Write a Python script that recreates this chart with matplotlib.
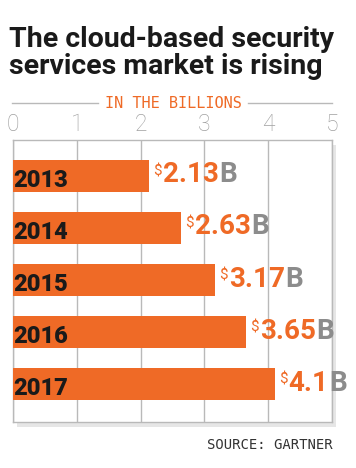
import matplotlib
matplotlib.use("Agg")
import matplotlib.pyplot as plt
from matplotlib.lines import Line2D
from matplotlib.patches import Rectangle

years = ["2013", "2014", "2015", "2016", "2017"]
values = [2.13, 2.63, 3.17, 3.65, 4.1]
value_labels = ["2.13", "2.63", "3.17", "3.65", "4.1"]
xticks = [0, 1, 2, 3, 4, 5]

ORANGE = "#ef6a26"
GRID = "#b9b9b9"
GREY_B = "#8c8c8c"
W, H = 356, 468

plt.rcParams["font.family"] = ["Roboto", "DejaVu Sans"]

fig = plt.figure(figsize=(W / 100, H / 100), dpi=100)
fig.patch.set_facecolor("white")

def fx(px):
    return px / W

def fy(py):
    return 1 - py / H

# plot area in pixels
left, right, top, bottom = 13, 332, 140, 422

# drop shadow behind the box
fig.add_artist(Rectangle((fx(left + 4), fy(bottom + 5)), fx(right - left), (bottom - top) / H,
                         transform=fig.transFigure, facecolor="#e6e6e6", edgecolor="none", zorder=0))

ax = fig.add_axes([fx(left), fy(bottom), fx(right - left), (bottom - top) / H])
ax.set_facecolor("white")
ax.set_zorder(1)

pos = list(range(len(years)))
ax.barh(pos, values, height=0.6, color=ORANGE, zorder=3)
ax.set_xlim(0, 5)
ax.set_ylim(4.73, -0.69)

ax.set_xticks(xticks)
ax.xaxis.tick_top()
ax.tick_params(axis="x", length=0, pad=3, labelsize=16.5, labelcolor="#a0a0a0")
for t in ax.get_xticklabels():
    t.set_fontweight("light")
ax.set_yticks([])
ax.grid(axis="x", color=GRID, linewidth=1, zorder=0)
for s in ax.spines.values():
    s.set_color(GRID)
    s.set_linewidth(1)

for i, (yr, v, lab) in enumerate(zip(years, values, value_labels)):
    ax.text(0.0, i + 0.31, yr, ha="left", va="bottom", fontsize=17, fontweight="black",
            color="#1a1a1a", zorder=4)
    t1 = ax.annotate("$", (v, i), xytext=(3, 3), textcoords="offset points", ha="left", va="center",
                     fontsize=11, color=ORANGE, zorder=4)
    t2 = ax.annotate(lab, xy=(1, 0), xycoords=t1, xytext=(1, -7), textcoords="offset points",
                     ha="left", va="bottom", fontsize=20, fontweight="bold", color=ORANGE, zorder=4)
    ax.annotate("B", xy=(1, 0), xycoords=t2, xytext=(0, 0), textcoords="offset points",
                ha="left", va="bottom", fontsize=20, fontweight="bold", color=GREY_B, zorder=4)

# title
fig.text(fx(9), fy(26), "The cloud-based security\nservices market is rising", ha="left", va="top",
         fontsize=20.5, fontweight="bold", color="#1a1a1a", linespacing=1.0)

# units header with rules either side
fig.text(fx(173), fy(103), "IN THE BILLIONS", ha="center", va="center", fontsize=11,
         color=ORANGE, fontfamily="DejaVu Sans Mono")
fig.add_artist(Line2D([fx(12), fx(98)], [fy(103), fy(103)], color=GRID, lw=1, transform=fig.transFigure))
fig.add_artist(Line2D([fx(248), fx(332)], [fy(103), fy(103)], color=GRID, lw=1, transform=fig.transFigure))

fig.text(fx(333), fy(445), "SOURCE: GARTNER", ha="right", va="center", fontsize=10,
         color="#333333", fontfamily="DejaVu Sans Mono")

fig.savefig("out.png", dpi=100)
